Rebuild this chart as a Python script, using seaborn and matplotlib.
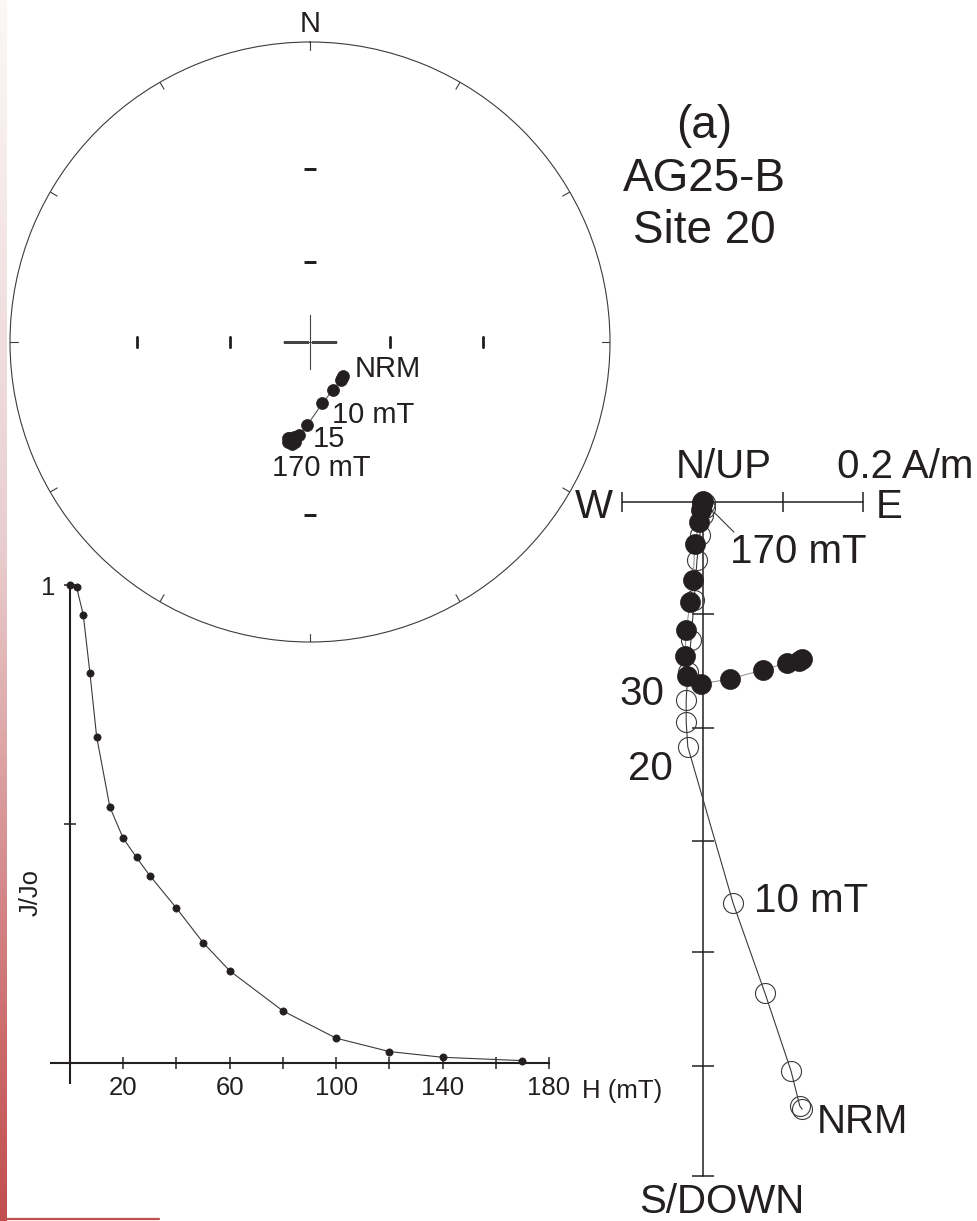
import numpy as np
import matplotlib
matplotlib.use("Agg")
import matplotlib.pyplot as plt
import seaborn as sns
from matplotlib.colors import LinearSegmentedColormap
from matplotlib.lines import Line2D

sns.set_style("white")
plt.rcParams["font.family"] = ["Liberation Sans", "DejaVu Sans"]

INK = "#231f20"

# AF demagnetisation steps (mT) and normalised intensity J/Jo
af_steps = [0, 2.5, 5, 7.5, 10, 15, 20, 25, 30, 40, 50, 60, 80, 100, 120, 140, 170]
j_ratio = [1.0, 0.995, 0.937, 0.815, 0.683, 0.535, 0.470, 0.430, 0.392, 0.324,
           0.252, 0.193, 0.109, 0.052, 0.024, 0.012, 0.005]

# stereonet directions (deg), all lower hemisphere
stereo_dec = [135.6, 138.5, 141.1, 154.7, 168.7, 181.9, 186.6, 190.6, 189.0,
              192.5, 188.5, 191.5, 190.0, 193.0, 189.5, 191.0, 190.5]
stereo_inc = [71.9, 71.6, 71.4, 69.9, 66.4, 59.0, 55.2, 53.1, 54.0,
              52.3, 52.8, 53.8, 52.0, 53.5, 54.5, 52.6, 53.0]

# Zijderveld, A/m : horizontal plane (E, N) closed, vertical plane (E, Up) open
hor_east = [0.124, 0.120, 0.105, 0.075, 0.034, -0.0025, -0.020, -0.0225, -0.021,
            -0.016, -0.0125, -0.010, -0.005, -0.0025, -0.001, -0.001, 0.0]
hor_north = [-0.196, -0.199, -0.201, -0.210, -0.221, -0.2275, -0.2175, -0.1925, -0.160,
             -0.125, -0.0975, -0.0525, -0.025, -0.010, -0.0025, 0.0, 0.001]
ver_east = [0.124, 0.121, 0.110, 0.0775, 0.0375, -0.019, -0.021, -0.021,
            -0.019, -0.015, -0.011, -0.0075, -0.004, 0.0, 0.0025, 0.0025]
ver_up = [-0.759, -0.755, -0.711, -0.614, -0.501, -0.306, -0.275, -0.2475,
          -0.2125, -0.1725, -0.1225, -0.0725, -0.041, -0.016, -0.0075, -0.001]

W, H = 978, 1221
fig = plt.figure(figsize=(W / 100, H / 100), dpi=100)


def box(x0, y0, x1, y1):
    # pixel box (top-left origin) -> figure fraction
    return [x0 / W, 1 - y1 / H, (x1 - x0) / W, (y1 - y0) / H]


def label(ax, text, xy, dx, dy, size, ha="left"):
    ax.annotate(text, xy=xy, xytext=(dx, dy), textcoords="offset pixels",
                ha=ha, va="baseline", fontsize=size, color=INK)


# red gradient strip on the left edge
bar = fig.add_axes(box(0, 0, 7, 1221))
cmap = LinearSegmentedColormap.from_list(
    "strip", [(0, "#fcf8f8"), (0.45, "#e9cdce"), (0.85, "#cc6b6c"), (1, "#c24f4f")])
bar.imshow(np.linspace(0, 1, 256).reshape(-1, 1), aspect="auto", cmap=cmap)
bar.axis("off")
fig.add_artist(Line2D([7 / W, 159 / W], [1 - 1219 / H] * 2, color="#c0504d", lw=1.6))

# ---------------- stereonet (equal-angle) ----------------
ax_s = fig.add_axes(box(10, 42, 610, 642), projection="polar")
ax_s.set_facecolor("none")
ax_s.set_theta_zero_location("N")
ax_s.set_theta_direction(-1)
ax_s.set_ylim(0, 1)
ax_s.set_xticks([])
ax_s.set_yticks([])
ax_s.grid(False)
ax_s.spines["polar"].set_color("#3c3c3c")
ax_s.spines["polar"].set_linewidth(0.8)

for az in range(0, 360, 30):
    ax_s.plot([np.radians(az)] * 2, [0.973, 1.0], color="#3c3c3c", lw=0.8)

r60 = np.tan(np.radians(15))
r30 = np.tan(np.radians(30))
ax_s.plot(np.radians([90, 90, 270, 270]), [r60, r30, r60, r30], ls="none",
          marker="|", ms=9, mew=2, color=INK)
ax_s.plot(np.radians([0, 0, 180]), [r60, r30, r30], ls="none",
          marker="_", ms=9, mew=2, color=INK)
ax_s.plot([0], [0], marker="+", ms=39, mew=0.8, color="#444444")

theta = np.radians(stereo_dec)
rad = np.tan(np.radians(90 - np.array(stereo_inc)) / 2)
sns.lineplot(x=theta, y=rad, ax=ax_s, sort=False, estimator=None,
             color="#555555", linewidth=0.8, marker="o", markersize=8.6,
             markerfacecolor=INK, markeredgecolor=INK, markeredgewidth=0.5)
ax_s.set_xlabel("")
ax_s.set_ylabel("")

label(ax_s, "N", (0, 1), 0, 10, 21, ha="center")
label(ax_s, "NRM", (theta[0], rad[0]), 11, -1, 21)
label(ax_s, "10 mT", (theta[4], rad[4]), 10, -20, 21)
label(ax_s, "15", (theta[5], rad[5]), 6, -22, 21)
label(ax_s, "170 mT", (theta[-1], rad[-1]), 30, -35, 21, ha="center")

# ---------------- intensity decay ----------------
ax_d = fig.add_axes(box(43.4, 565.9, 575.6, 1091.7))
ax_d.set_facecolor("none")
sns.lineplot(x=af_steps, y=j_ratio, ax=ax_d, sort=False, estimator=None,
             color="#3a3a3a", linewidth=0.8, marker="o", markersize=5.2,
             markerfacecolor=INK, markeredgecolor=INK, markeredgewidth=0.5)
ax_d.set_xlim(-10, 190)
ax_d.set_ylim(-0.06, 1.04)
for side in ["top", "right"]:
    ax_d.spines[side].set_visible(False)
ax_d.spines["left"].set_position(("data", 0))
ax_d.spines["bottom"].set_position(("data", 0))
ax_d.spines["left"].set_bounds(-0.042, 1.005)
ax_d.spines["bottom"].set_bounds(-7.3, 180)
for side in ["left", "bottom"]:
    ax_d.spines[side].set_linewidth(1.5)
    ax_d.spines[side].set_color(INK)

xt = list(range(20, 181, 20))
ax_d.set_xticks(xt)
ax_d.set_xticklabels([str(v) if i % 2 == 0 else "" for i, v in enumerate(xt)])
ax_d.set_yticks([0.5, 1.0])
ax_d.set_yticklabels(["", "1"])
ax_d.tick_params(axis="both", bottom=True, left=True, direction="inout",
                 length=9, width=1.1, color=INK, labelcolor=INK, labelsize=18.5)
ax_d.tick_params(axis="x", pad=5)
ax_d.tick_params(axis="y", pad=6)
ax_d.set_xlabel("")
ax_d.set_ylabel("")
fig.text(582 / W, 1 - 1098 / H, "H (mT)", fontsize=18.5, color=INK, va="baseline")
fig.text(31 / W, 1 - 893 / H, "J/Jo", fontsize=18.5, color=INK, rotation=90,
         ha="center", va="center")

# ---------------- Zijderveld diagram ----------------
ax_z = fig.add_axes(box(560, 440, 978, 1221))
ax_z.set_facecolor("none")
ax_z.set_xlim(-0.17875, 0.34375)
ax_z.set_ylim(-0.89875, 0.0775)
ax_z.axis("off")

h_ends = [-0.10125, 0.1, 0.2]
v_ticks = [-0.14, -0.2825, -0.42375, -0.5625, -0.705, -0.8425]
ax_z.plot([h_ends[0], h_ends[-1]], [0, 0], color=INK, lw=1.1)
ax_z.plot([0, 0], [0, v_ticks[-1]], color=INK, lw=1.1)
ax_z.plot(h_ends, [0] * len(h_ends), ls="none", marker="|", ms=15, mew=1.1, color=INK)
ax_z.plot([0] * len(v_ticks), v_ticks, ls="none", marker="_", ms=16.5, mew=1.1, color=INK)

sns.lineplot(x=ver_east, y=ver_up, ax=ax_z, sort=False, estimator=None,
             color="#3a3a3a", linewidth=0.8, marker="o", markersize=14.4,
             markerfacecolor="none", markeredgecolor="#3a3a3a", markeredgewidth=0.8)
sns.lineplot(x=hor_east, y=hor_north, ax=ax_z, sort=False, estimator=None,
             color="#9a9a9a", linewidth=0.8, marker="o", markersize=14.4,
             markerfacecolor=INK, markeredgecolor=INK, markeredgewidth=0.5)
ax_z.axis("off")

zs = 29
label(ax_z, "N/UP", (0, 0), 21, 24, zs, ha="center")
label(ax_z, "0.2 A/m", (h_ends[-1], 0), -26, 24, zs)
label(ax_z, "W", (h_ends[0], 0), -9, -16, zs, ha="right")
label(ax_z, "E", (h_ends[-1], 0), 13, -16, zs)
label(ax_z, "170 mT", (hor_east[-1], hor_north[-1]), 27, -62, zs)
ax_z.annotate("", xy=(hor_east[-1], hor_north[-1]), xytext=(31, -31),
              textcoords="offset pixels",
              arrowprops=dict(arrowstyle="-", color="#3a3a3a", lw=0.8,
                              shrinkA=0, shrinkB=11))
label(ax_z, "30", (ver_east[7], ver_up[7]), -22, -5, zs, ha="right")
label(ax_z, "20", (ver_east[5], ver_up[5]), -15, -33, zs, ha="right")
label(ax_z, "10 mT", (ver_east[4], ver_up[4]), 21, -9, zs)
label(ax_z, "NRM", (ver_east[0], ver_up[0]), 15, -24, zs)
label(ax_z, "S/DOWN", (0, v_ticks[-1]), 19, -37, zs, ha="center")

# ---------------- sample caption ----------------
for txt, base in [("(a)", 138), ("AG25-B", 191), ("Site 20", 243)]:
    fig.text(704 / W, 1 - base / H, txt, fontsize=33, color=INK,
             ha="center", va="baseline")

fig.savefig("out.png", dpi=100)
